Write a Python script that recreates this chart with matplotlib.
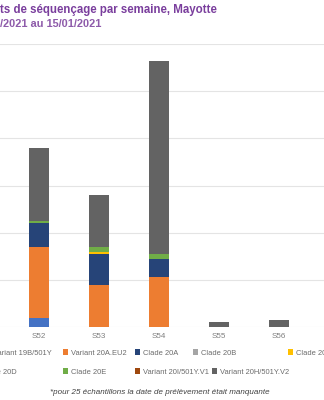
import matplotlib
matplotlib.use("Agg")
import matplotlib.pyplot as plt
from matplotlib.patches import Patch
import numpy as np

plt.rcParams['font.family'] = ['Liberation Sans', 'DejaVu Sans']

# semaines visibles
weeks = ['S52', 'S53', 'S54', 'S55', 'S56']

# variantes / clades (ordre d'empilement = ordre de la légende)
series = ['Variant 19B/501Y', 'Variant 20A.EU2', 'Clade 20A', 'Clade 20B', 'Clade 20C',
          'Clade 20D', 'Clade 20E', 'Variant 20I/501Y.V1', 'Variant 20H/501Y.V2']
colors = ['#4472C4', '#ED7D31', '#264478', '#A5A5A5', '#FFC000',
          '#5B9BD5', '#70AD47', '#9E480E', '#636363']

v19b = [4, 0, 0, 0, 0]
v20a_eu2 = [30, 18, 21, 0, 0]
c20a = [10, 13, 8, 0, 0]
c20b = [0, 0, 0, 0, 0]
c20c = [0, 1, 0, 0, 0]
c20d = [0, 0, 0, 0, 0]
c20e = [1, 2, 2, 0, 0]
v20i = [0, 0, 0, 0, 0]
v20h = [31, 22, 82, 2, 3]
values = [v19b, v20a_eu2, c20a, c20b, c20c, c20d, c20e, v20i, v20h]

fig = plt.figure(figsize=(3.24, 4.0), dpi=100)
H = 400.0
ax = fig.add_axes([0, 1 - 327 / H, 1, (327 - 44) / H])

x = np.arange(len(weeks))
bottom = np.zeros(len(weeks))
for name, col, vals in zip(series, colors, values):
    vals = np.array(vals, dtype=float)
    ax.bar(x, vals, width=0.32, bottom=bottom, color=col, zorder=3, label=name)
    bottom += vals

ax.set_xlim(-0.65, 4.75)
ax.set_ylim(0, 120)
ax.set_yticks(np.arange(0, 121, 20))
ax.yaxis.grid(True, color='#E4E4E4', linewidth=0.8, zorder=0)
ax.tick_params(axis='y', left=False, labelleft=False)
ax.tick_params(axis='x', length=0, pad=4, labelsize=5.8, labelcolor='#7F7F7F')
ax.set_xticks(x)
ax.set_xticklabels(weeks)
for s in ax.spines.values():
    s.set_visible(False)

# titre (coupé à gauche)
purple = '#7A3E9D'
fig.text(0.0, 1 - 10 / H, "ts de séquençage par semaine, Mayotte", fontsize=8.3,
         fontweight='bold', color=purple, ha='left', va='center')
fig.text(0.0, 1 - 24 / H, "/2021 au 15/01/2021", fontsize=7.9,
         fontweight='bold', color='#8E5BAA', ha='left', va='center')

# légende, placée entrée par entrée comme dans Excel
leg_pos = [(52, 353, 'right'), (63, 353, 'left'), (135, 353, 'left'), (193, 353, 'left'),
           (288, 353, 'left'), (17, 372, 'right'), (63, 372, 'left'), (135, 372, 'left'),
           (212, 372, 'left')]
for name, col, (px, py, side) in zip(series, colors, leg_pos):
    h = Patch(facecolor=col, edgecolor='none')
    fig.legend(handles=[h], labels=[name], loc='center ' + side,
               bbox_to_anchor=(px / 324.0, 1 - py / H), frameon=False,
               fontsize=5.4, labelcolor='#6B6B6B', handlelength=0.7, handleheight=0.7,
               handletextpad=0.35, borderpad=0, borderaxespad=0)

fig.text(160 / 324.0, 1 - 393 / H,
         "*pour 25 échantillons la date de prélèvement était manquante",
         fontsize=5.8, style='italic', color='#404040', ha='center', va='center')

fig.savefig('out.png', dpi=100)
